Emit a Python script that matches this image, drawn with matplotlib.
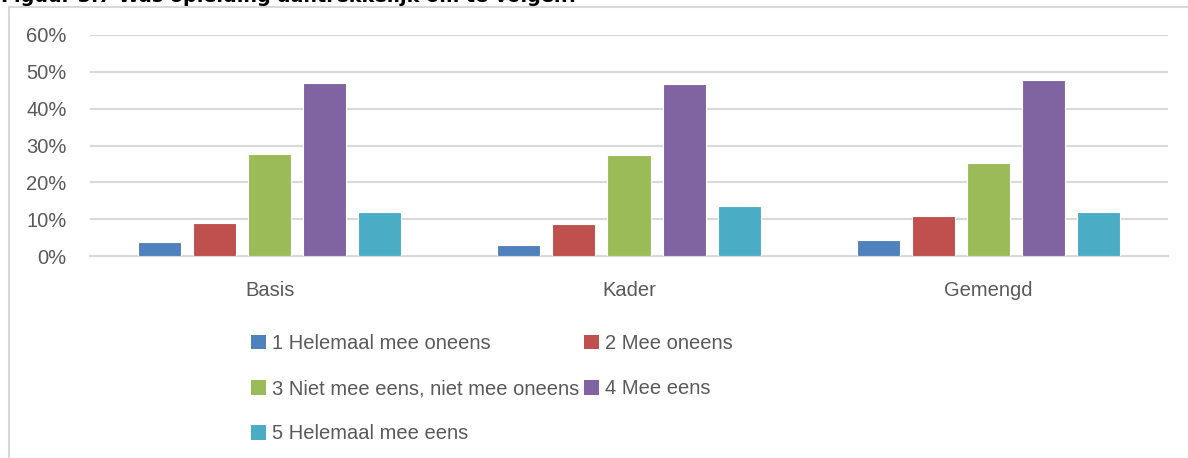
import numpy as np
import matplotlib
matplotlib.use("Agg")
import matplotlib.pyplot as plt
from matplotlib.patches import Rectangle, Patch
from matplotlib.ticker import PercentFormatter

groups = ["Basis", "Kader", "Gemengd"]
labels = ["1 Helemaal mee oneens", "2 Mee oneens", "3 Niet mee eens, niet mee oneens",
          "4 Mee eens", "5 Helemaal mee eens"]
s1 = [3.8, 3.1, 4.3]
s2 = [9.0, 8.7, 10.8]
s3 = [27.8, 27.5, 25.3]
s4 = [46.9, 46.6, 47.8]
s5 = [11.9, 13.7, 11.9]
colors = ["#4F81BD", "#C0504D", "#9BBB59", "#8064A2", "#4BACC6"]

plt.rcParams['font.family'] = ['Liberation Sans', 'DejaVu Sans']

fig = plt.figure(figsize=(11.88, 4.58), dpi=100)
W, H = 1188, 458

# frame of the chart (partly cut off at the right)
fig.patches.append(Rectangle((8.5 / W, -0.1), 1.2, 1 - 7 / H + 0.1, transform=fig.transFigure,
                             fill=False, edgecolor="#D9D9D9", lw=1.5))
# caption, cut off at the top like in the source
fig.text(1 / W, 1 - 2 / H, "Figuur 3.7 Was opleiding aantrekkelijk om te volgen?",
         fontsize=13.8, fontweight="bold", family="DejaVu Sans", va="baseline", ha="left")

ax = fig.add_axes([90 / W, 1 - 256 / H, (1168 - 90) / W, (256 - 35) / H])
x = np.arange(len(groups))
series = [s1, s2, s3, s4, s5]
step = 55 / 359
width = 43 / 359
for i, s in enumerate(series):
    ax.bar(x + (i - 2) * step, s, width, color=colors[i], edgecolor="white", lw=0.8,
           label=labels[i], zorder=3)

ax.set_xlim(-0.5, 2.5)
ax.set_ylim(0, 60)
ax.set_yticks(range(0, 61, 10))
ax.yaxis.set_major_formatter(PercentFormatter(decimals=0))
ax.grid(axis="y", color="#D9D9D9", lw=1.5, zorder=0)
for sp in ["top", "right", "left"]:
    ax.spines[sp].set_visible(False)
ax.spines["bottom"].set_color("#D9D9D9")
ax.spines["bottom"].set_linewidth(1.5)
ax.set_xticks(x)
ax.set_xticklabels(groups)
ax.tick_params(axis="both", length=0, colors="#595959", labelsize=14.5)
ax.tick_params(axis="x", pad=18)
ax.tick_params(axis="y", pad=17)

order = [0, 2, 4, 1, 3]
handles = [Patch(facecolor=colors[i]) for i in order]
leg = fig.legend(handles, [labels[i] for i in order], ncol=2, loc="upper left",
                 bbox_to_anchor=(233 / W, 1 - 316 / H), frameon=False, fontsize=14.5,
                 handlelength=0.75, handleheight=0.75, handletextpad=0.3,
                 labelspacing=1.3, columnspacing=0.2, labelcolor="#595959")

fig.savefig("out.png", dpi=100)
